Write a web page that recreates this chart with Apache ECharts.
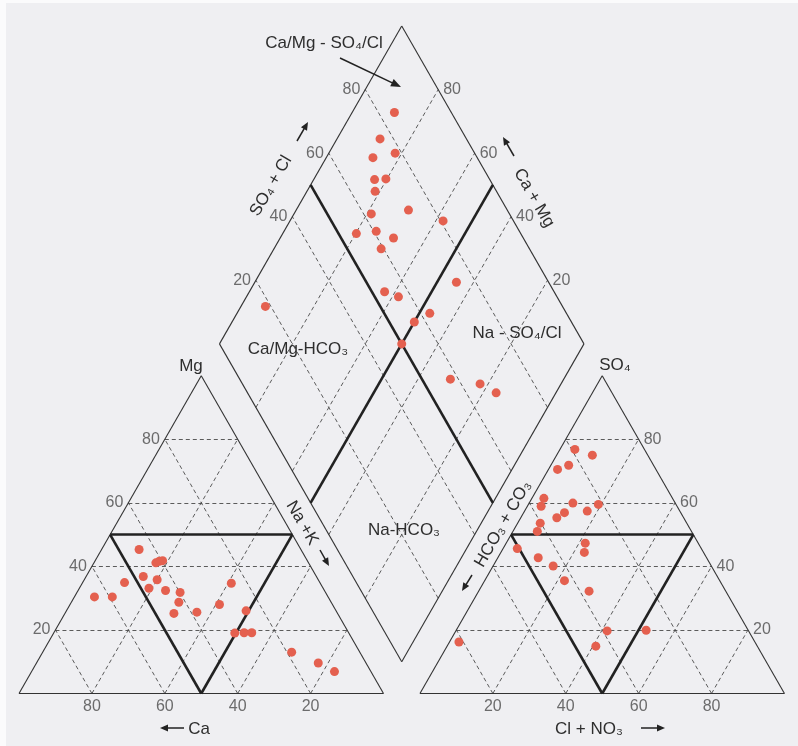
<!DOCTYPE html>
<html><head><meta charset="utf-8">
<script src="https://cdn.jsdelivr.net/npm/echarts@6/dist/echarts.min.js"></script>
<style>html,body{margin:0;padding:0;background:#fff}#c{width:798px;height:746px}</style>
</head><body><div id="c"></div>
<script>
// ---- data (percent) ----
const tickValues = [20, 40, 60, 80];
// cations (left triangle)
const catCa = [44.4,41.9,40.7,39.7,47.5,44.2,53.6,47.8,43.6,39.9,64.1,59.2,41.8,31.0,24.4,44.9,38.4,24.7,31.3,28.7,26.6,18.7,13.1,10.0];
const catMg = [45.3,41.1,41.6,41.8,36.8,35.8,34.9,33.1,32.4,31.8,30.4,30.4,28.7,28.0,34.7,25.2,25.6,26.0,19.0,19.1,19.1,13.0,9.6,6.9];
const catNa = [10.3,17.0,17.7,18.5,15.7,20.0,11.5,19.1,24.0,28.3,5.5,10.4,29.5,41.0,40.9,29.9,36.0,49.3,49.7,52.2,54.3,68.3,77.3,83.1];
// anions (right triangle)
const anHCO3 = [19.1,15.2,23.3,27.0,35.3,37.3,28.1,21.3,25.4,31.9,34.8,40.2,42.3,31.0,32.7,50.5,46.2,43.4,42.6,37.5,38.8,28.0,44.3,81.2];
const anSO4  = [76.8,75.0,71.8,70.5,61.4,58.9,59.9,59.5,57.4,56.9,55.3,53.6,51.0,47.3,44.4,45.6,42.7,40.1,35.5,32.2,19.7,19.9,14.9,16.2];
const anCl   = [4.1,9.8,4.9,2.5,3.3,3.8,12.0,19.2,17.2,11.2,9.9,6.2,6.7,21.7,22.9,3.9,11.1,16.5,21.9,30.3,41.5,52.1,40.8,2.6];
// diamond (Ca+Mg %, SO4+Cl %)
const diaCaMg  = [88.4,88.2,81.8,87.2,83.3,80.3,81.3,69.2,78.8,58.0,79.8,74.7,68.9,70.6,44.7,62.9,58.3,47.1,50.0,93.3,50.0,31.1,22.2,16.4];
const diaSO4Cl = [84.4,76.3,78.2,71.4,68.4,71.6,66.7,72.9,62.1,80.7,54.9,60.7,64.4,59.3,74.7,53.5,56.5,62.5,56.9,18.5,50.0,57.8,65.2,68.2];

// ---- geometry (triangle side = 100 units) ----
const G = 10, H = Math.sqrt(3) / 2;
function cat(ca, mg, na) { return [na + mg / 2, mg * H]; }
function an(hc, so4, cl) { return [100 + G + cl + so4 / 2, so4 * H]; }
const B = [100 + G / 2, G / 2 * Math.sqrt(3)];
function dia(cm, sc) { return [B[0] + (sc - cm) / 2, B[1] + (cm + sc) * H]; }

const outline = [
  [cat(100,0,0), cat(0,0,100)], [cat(0,0,100), cat(0,100,0)], [cat(0,100,0), cat(100,0,0)],
  [an(100,0,0), an(0,0,100)], [an(0,0,100), an(0,100,0)], [an(0,100,0), an(100,0,0)],
  [dia(0,0), dia(100,0)], [dia(100,0), dia(100,100)], [dia(100,100), dia(0,100)], [dia(0,100), dia(0,0)]
];
function gridSegs(p) {
  return [
    [cat(100-p,p,0), cat(0,p,100-p)], [cat(p,0,100-p), cat(p,100-p,0)], [cat(100-p,0,p), cat(0,100-p,p)],
    [an(100-p,p,0), an(0,p,100-p)], [an(p,0,100-p), an(p,100-p,0)], [an(100-p,0,p), an(0,100-p,p)],
    [dia(p,0), dia(p,100)], [dia(0,p), dia(100,p)]
  ];
}
let dashed = [];
tickValues.forEach(p => { dashed = dashed.concat(gridSegs(p)); });
const thick = gridSegs(50);

const ptsCat = catCa.map((c, i) => cat(c, catMg[i], catNa[i]));
const ptsAn = anHCO3.map((h, i) => an(h, anSO4[i], anCl[i]));
const ptsDia = diaCaMg.map((c, i) => dia(c, diaSO4Cl[i]));

const FONT = "'Liberation Sans', Arial, sans-serif";
const tickLbl = (pos) => ({ show: true, position: pos, distance: 5, color: '#4a4a4a', fontSize: 16, fontFamily: FONT, formatter: p => p.data.t });
function tickSeries(fn, pos) {
  return { type: 'scatter', symbolSize: 0, silent: true, data: tickValues.map(p => ({ value: fn(p), t: String(p) })), label: tickLbl(pos) };
}

const kx = 3.645, ky = 3.67, x0 = 19, y0 = 693.5;
const chart = echarts.init(document.getElementById('c'));
const txt = (s, x, y, rot, size) => ({
  type: 'text', x: x, y: y, rotation: rot || 0, z: 100,
  style: { text: s, fill: '#2e2e2e', font: (size || 17) + 'px ' + FONT, align: 'center', verticalAlign: 'middle' }
});
const R60 = Math.PI / 3;

// annotation arrow from tail to head (pixels)
function arrow(t, h, hl, hw) {
  hl = hl || 8; hw = hw || 3.5;
  const dx = h[0]-t[0], dy = h[1]-t[1], l = Math.hypot(dx, dy);
  const ux = dx/l, uy = dy/l;
  const b = [h[0]-hl*ux, h[1]-hl*uy];
  return [
    { type: 'line', z: 100, shape: { x1: t[0], y1: t[1], x2: b[0]+ux, y2: b[1]+uy }, style: { stroke: '#222', lineWidth: 1.5 } },
    { type: 'polygon', z: 100, shape: { points: [h, [b[0]-hw*uy, b[1]+hw*ux], [b[0]+hw*uy, b[1]-hw*ux]] }, style: { fill: '#222' } }
  ];
}

chart.setOption({
  animation: false,
  backgroundColor: '#efeff2',
  grid: { left: 0, right: 0, top: 0, bottom: 0 },
  xAxis: { type: 'value', min: -x0 / kx, max: (798 - x0) / kx, show: false },
  yAxis: { type: 'value', min: -(746 - y0) / ky, max: y0 / ky, show: false },
  series: [
    { type: 'lines', coordinateSystem: 'cartesian2d', silent: true, z: 2,
      data: dashed.map(s => ({ coords: s })), lineStyle: { color: '#4a4a4a', width: 1, type: [4, 3], opacity: 0.9 } },
    { type: 'lines', coordinateSystem: 'cartesian2d', silent: true, z: 3,
      data: outline.map(s => ({ coords: s })), lineStyle: { color: '#333', width: 1.1, opacity: 1 } },
    { type: 'lines', coordinateSystem: 'cartesian2d', silent: true, z: 4,
      data: thick.map(s => ({ coords: s })), lineStyle: { color: '#222', width: 2.6, opacity: 1 } },
    { type: 'scatter', z: 10, symbolSize: 9, itemStyle: { color: '#e4604f', opacity: 1 }, data: ptsCat },
    { type: 'scatter', z: 10, symbolSize: 9, itemStyle: { color: '#e4604f', opacity: 1 }, data: ptsAn },
    { type: 'scatter', z: 10, symbolSize: 9, itemStyle: { color: '#e4604f', opacity: 1 }, data: ptsDia },
    tickSeries(p => cat(100-p, p, 0), 'left'),
    tickSeries(p => cat(p, 0, 100-p), 'bottom'),
    tickSeries(p => an(0, p, 100-p), 'right'),
    tickSeries(p => an(100-p, 0, p), 'bottom'),
    tickSeries(p => dia(100, p), 'left'),
    tickSeries(p => dia(p, 100), 'right')
  ],
  graphic: [
    { type: 'rect', shape: { x: 0, y: 0, width: 6, height: 746 }, style: { fill: '#fbfbfc' }, z: 0 },
    { type: 'rect', shape: { x: 0, y: 0, width: 798, height: 3 }, style: { fill: '#fbfbfc' }, z: 0 },
    txt('Ca/Mg - SO₄/Cl', 324, 43),
    ...arrow([340, 58], [401, 87], 10, 4),
    txt('SO₄ + Cl', 271, 186, R60),
    ...arrow([297, 141], [308, 122]),
    txt('Ca + Mg', 534, 198, -R60),
    ...arrow([514, 156], [503, 137]),
    txt('Ca/Mg-HCO₃', 298, 349),
    txt('Na - SO₄/Cl', 517, 333),
    txt('Na-HCO₃', 404, 530),
    txt('Na +K', 302, 523, -R60),
    ...arrow([320, 550], [329, 566]),
    txt('HCO₃ + CO₃', 503, 524, R60),
    ...arrow([472, 575], [462, 591]),
    txt('Mg', 191, 366),
    txt('SO₄', 615, 365),
    ...arrow([184, 728], [160, 728], 8, 3.5),
    txt('Ca', 199, 729),
    txt('Cl + NO₃', 589, 729),
    ...arrow([641, 728], [665, 728], 8, 3.5)
  ]
});
</script></body></html>
